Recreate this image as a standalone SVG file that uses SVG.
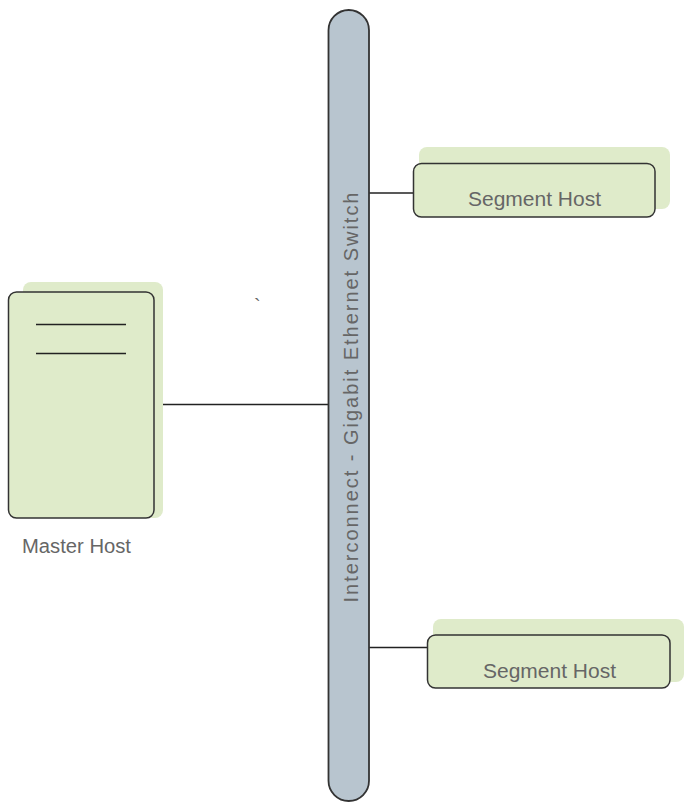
<svg xmlns="http://www.w3.org/2000/svg" width="684" height="803" viewBox="0 0 684 803">
<style>
.shadow{fill:#dfebca;stroke:none}
.box{fill:#dfebca;stroke:#333;stroke-width:1.5}
.bar{fill:#b8c5cf;stroke:#333;stroke-width:1.8}
.line{stroke:#222;stroke-width:1.3;fill:none}
.lbl{font-family:"Liberation Sans",Arial,sans-serif;font-size:20px;fill:#666666}
</style>
<rect width="684" height="803" fill="#fff"/>
<g id="connectors">
<line class="line" x1="163" y1="404.5" x2="328" y2="404.5"/>
<line class="line" x1="369" y1="193" x2="413" y2="193"/>
<line class="line" x1="369" y1="647.5" x2="427" y2="647.5"/>
</g>
<g id="switch">
<rect class="bar" x="328.5" y="10" width="40.5" height="791" rx="20.25" ry="20.25"/>
<text class="lbl" transform="translate(358,397.5) rotate(-90)" text-anchor="middle" textLength="410" lengthAdjust="spacing">Interconnect - Gigabit Ethernet Switch</text>
</g>
<g id="master">
<rect class="shadow" x="23" y="282" width="140" height="236" rx="8"/>
<rect class="box" x="8.5" y="292" width="145.5" height="226" rx="8"/>
<line class="line" x1="36" y1="324.5" x2="126" y2="324.5"/>
<line class="line" x1="36" y1="353.5" x2="126" y2="353.5"/>
<text class="lbl" x="22" y="553" textLength="109" lengthAdjust="spacingAndGlyphs">Master Host</text>
</g>
<g id="segment1">
<rect class="shadow" x="419" y="147" width="251" height="62" rx="8"/>
<rect class="box" x="413.5" y="163.5" width="241.5" height="53.5" rx="8"/>
<text class="lbl" x="468" y="206" textLength="133" lengthAdjust="spacingAndGlyphs">Segment Host</text>
</g>
<g id="segment2">
<rect class="shadow" x="433" y="619" width="251" height="63" rx="8"/>
<rect class="box" x="427.5" y="635" width="242.5" height="53" rx="8"/>
<text class="lbl" x="483" y="678" textLength="133" lengthAdjust="spacingAndGlyphs">Segment Host</text>
</g>
<text class="lbl" x="254" y="313">`</text>
</svg>
